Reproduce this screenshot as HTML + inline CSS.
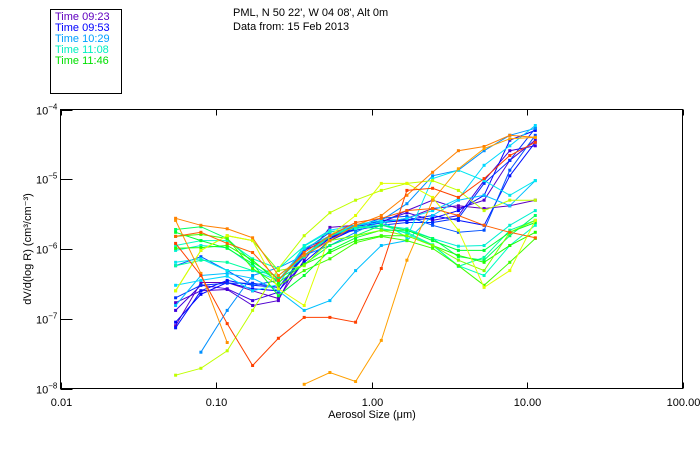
<!DOCTYPE html>
<html><head><meta charset="utf-8"><style>
body{margin:0;background:#fff;}
svg{display:block;font-family:"Liberation Sans",sans-serif;}
</style></head><body>
<svg id="chart" width="700" height="450" viewBox="0 0 700 450">
<rect x="0" y="0" width="700" height="450" fill="#fff"/>
<g>
<rect x="50.5" y="9.5" width="71" height="84" fill="none" stroke="#000"/>
<text x="55" y="20" font-size="11" fill="#6000c0">Time 09:23</text>
<text x="55" y="31" font-size="11" fill="#0000ff">Time 09:53</text>
<text x="55" y="42" font-size="11" fill="#00a0ff">Time 10:29</text>
<text x="55" y="53" font-size="11" fill="#00f0c0">Time 11:08</text>
<text x="55" y="64" font-size="11" fill="#00e000">Time 11:46</text>
</g>
<text x="233" y="16" font-size="11">PML, N 50 22', W 04 08', Alt 0m</text>
<text x="233" y="30" font-size="11">Data from: 15 Feb 2013</text>
<g id="marks"></g>
<g id="axes"></g>
<text x="372" y="418" font-size="11" text-anchor="middle">Aerosol Size (μm)</text>
<text transform="translate(31,249) rotate(-90)" font-size="11" text-anchor="middle">dV/d(log R) (cm³/cm⁻³)</text>
</svg>
<script>
const sizes=[0.055,0.080,0.118,0.172,0.252,0.369,0.540,0.790,1.156,1.69,2.47,3.62,5.30,7.75,11.3];
const xTicks=[0.01,0.1,1,10,100];
const xTickLabels=["0.01","0.10","1.00","10.00","100.00"];
const yTickExps=[-4,-5,-6,-7,-8];
const seriesColors=["#6000c0","#5000d0","#4000e0","#0000ff","#0010ff","#0030ff","#0050ff","#0090ff","#00c0ff","#00d8ff","#00e8f0","#00f0d0","#00ffc0","#00ffa0","#00ff60","#00ff30","#20ff00","#40ff00","#80ff00","#c0ff00","#e0ff00","#ff8000","#ffa000","#ff9000","#ff4000","#ff6000"];
// log10 of dV/dlogR per size bin (null = no data)
const s0=[-7.10,-6.48,-6.48,-6.60,-6.71,-6.16,-5.69,-5.66,-5.63,-5.56,-5.42,-5.38,-5.42,-5.38,-5.30];
const s1=[-6.77,-6.60,-6.58,-6.81,-6.74,-5.99,-5.84,-5.66,-5.62,-5.45,-5.30,-5.42,-5.30,-4.73,-4.44];
const s2=[-6.88,-6.52,-6.57,-6.74,-6.62,-6.02,-5.85,-5.71,-5.61,-5.48,-5.59,-5.52,-5.02,-4.59,-4.52];
const s3=[-7.05,-6.65,-6.48,-6.57,-6.60,-6.19,-5.88,-5.71,-5.62,-5.59,-5.56,-5.45,-5.23,-4.44,-4.30];
const s4=[-7.13,-6.60,-6.45,-6.52,-6.55,-6.11,-5.85,-5.69,-5.59,-5.58,-5.52,-5.59,-5.66,-4.95,-4.47];
const s5=[-6.70,-6.52,-6.49,-6.49,-6.55,-6.09,-5.81,-5.73,-5.66,-5.62,-5.62,-5.56,-5.06,-4.73,-4.27];
const s6=[-6.24,-6.11,-6.31,-6.52,-6.45,-6.02,-5.76,-5.68,-5.56,-5.53,-5.66,-5.76,-5.73,-4.87,-4.37];
const s7=[null,-7.48,-6.88,-6.38,-6.27,-6.09,-5.95,-5.76,-5.59,-5.35,-4.95,-4.87,-4.59,-4.37,-4.27];
const s8=[-6.81,-6.38,-6.35,-6.42,-6.60,-6.88,-6.74,-6.31,-5.95,-5.88,-5.52,-5.30,-5.23,-5.38,-5.02];
const s9=[-6.52,-6.45,-6.39,-6.60,-6.51,-5.95,-5.73,-5.66,-5.62,-5.56,-5.45,-5.28,-4.80,-4.52,-4.23];
const s10=[-6.19,-6.14,-6.31,-6.31,-6.45,-5.99,-5.81,-5.65,-5.59,-5.84,-4.99,-4.87,-5.02,-5.23,-5.02];
const s11=[-6.02,-5.95,-5.98,-6.24,-6.45,-6.09,-5.81,-5.68,-5.66,-5.71,-5.85,-5.96,-5.95,-5.66,-5.45];
const s12=[-5.95,-5.88,-5.88,-6.14,-6.28,-5.96,-5.75,-5.71,-5.65,-5.78,-5.95,-6.24,-6.38,-5.95,-5.66];
const s13=[-6.24,-6.16,-6.19,-6.31,-6.38,-6.11,-5.82,-5.68,-5.71,-5.76,-5.94,-6.25,-6.12,-5.73,-5.59];
const s14=[-5.72,-5.68,-5.85,-6.19,-6.42,-6.22,-5.95,-5.81,-5.66,-5.73,-5.85,-6.11,-6.16,-5.81,-5.52];
const s15=[-5.76,-5.88,-5.99,-6.21,-6.67,-6.38,-6.02,-5.84,-5.73,-5.73,-5.88,-6.02,-6.02,-5.76,-5.62];
const s16=[-5.99,-5.98,-5.95,-6.16,-6.48,-6.22,-6.05,-5.88,-5.81,-5.81,-5.95,-6.09,-6.19,-5.95,-5.76];
const s17=[-5.82,-5.79,-5.85,-6.28,-6.52,-6.31,-6.14,-5.91,-5.82,-5.88,-5.99,-6.24,-6.52,-6.19,-5.85];
const s18=[-6.60,-6.02,-5.81,-5.88,-6.31,-6.24,-5.88,-5.81,-5.73,-5.81,-5.95,-6.16,-6.31,-5.76,-5.59];
const s19=[-7.81,-7.71,-7.46,-6.88,-6.28,-5.81,-5.48,-5.30,-5.16,-5.06,-5.02,-5.16,-5.45,-5.30,-5.30];
const s20=[-6.60,-6.02,-5.81,-5.88,-6.57,-6.81,-5.81,-5.52,-5.06,-5.06,-5.26,-5.73,-6.55,-6.31,-5.59];
const s21=[-5.56,-5.66,-5.71,-5.84,-6.38,-6.09,-5.88,-5.66,-5.52,-5.23,-4.90,-4.59,-4.53,-4.37,-4.40];
const s22=[null,null,null,null,null,-7.94,-7.77,-7.90,-7.31,-6.16,-5.30,-4.85,-4.56,-4.42,-4.40];
const s23=[-5.59,-6.35,-7.34,null,null,null,null,null,null,null,null,null,null,null,null];
const s24=[-5.92,-6.38,-7.07,-7.67,-7.28,-6.98,-6.98,-7.05,-6.28,-5.16,-5.13,-5.26,-4.99,-4.66,-4.47];
const s25=[-5.82,-5.76,-5.92,-6.05,-6.45,-6.05,-5.81,-5.62,-5.56,-5.45,-5.42,-5.52,-5.66,-5.76,-5.84];
const seriesList=[s0,s1,s2,s3,s4,s5,s6,s7,s8,s9,s10,s11,s12,s13,s14,s15,s16,s17,s18,s19,s20,s21,s22,s23,s24,s25];

const NS="http://www.w3.org/2000/svg";
const L=60.5,R=682.5,T=109.5,B=388.5;
function xScale(v){return L+(Math.log10(v)+2)/4*(R-L);}
function yScale(e){return T+(-4-e)/4*(B-T);}
function mk(tag,attrs){const el=document.createElementNS(NS,tag);for(const k in attrs)el.setAttribute(k,attrs[k]);return el;}
const marks=document.getElementById('marks');
seriesList.forEach((s,i)=>{
  const g=mk('g',{});
  
  
  const col=seriesColors[i%seriesColors.length];
  let segs=[],cur=[];
  s.forEach((v,j)=>{if(v===null){if(cur.length)segs.push(cur);cur=[];}else cur.push([xScale(sizes[j]),yScale(v)]);});
  if(cur.length)segs.push(cur);
  segs.forEach(seg=>{
    const pl=mk('polyline',{points:seg.map(p=>p[0].toFixed(1)+','+p[1].toFixed(1)).join(' '),fill:'none',stroke:col,'stroke-width':1});
    
    
    g.appendChild(pl);
    seg.forEach(p=>{
      const r=mk('rect',{x:(p[0]-1.5).toFixed(1),y:(p[1]-1.5).toFixed(1),width:3,height:3,fill:col});
      
      
      g.appendChild(r);
    });
  });
  marks.appendChild(g);
});
const axes=document.getElementById('axes');
const frame=mk('rect',{x:L,y:T,width:R-L,height:B-T,fill:'none',stroke:'#000','stroke-width':1});


axes.appendChild(frame);
xTicks.forEach((v,i)=>{
  const x=Math.round(xScale(v))+0.5;
  const t1=mk('line',{x1:x,x2:x,y1:B,y2:B-6,stroke:'#000'});
  
  
  axes.appendChild(t1);
  const t2=mk('line',{x1:x,x2:x,y1:T,y2:T+6,stroke:'#000'});
  
  
  axes.appendChild(t2);
  const tx=mk('text',{x:x,y:406,'font-size':11,'text-anchor':'middle'});
  tx.textContent=xTickLabels[i];
  
  
  axes.appendChild(tx);
});
yTickExps.forEach(e=>{
  const y=Math.round(yScale(e))+0.5;
  const t=mk('line',{x1:L,x2:L+12,y1:y,y2:y,stroke:'#000'});
  
  
  axes.appendChild(t);
  const tx=mk('text',{x:36,y:y+4,'font-size':11});
  tx.textContent='10';
  const sup=mk('tspan',{dy:-5,'font-size':8});
  sup.textContent='−'+(-e);
  tx.appendChild(sup);
  
  
  axes.appendChild(tx);
});
</script>
</body></html>
